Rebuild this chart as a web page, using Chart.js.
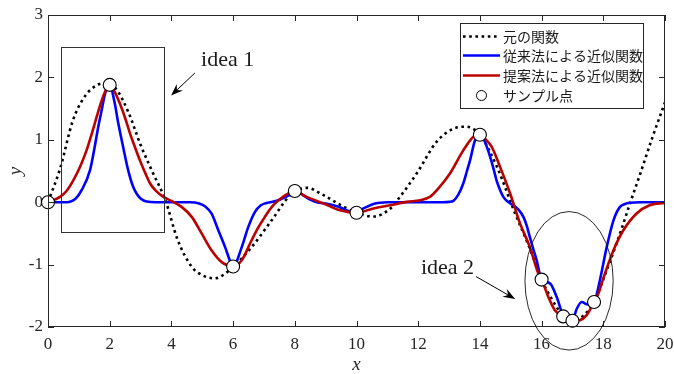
<!DOCTYPE html>
<html>
<head>
<meta charset="utf-8">
<script src="https://cdn.jsdelivr.net/npm/chart.js@4.4.1/dist/chart.umd.min.js"></script>
<style>
  html, body { margin: 0; padding: 0; background: #fff; }
</style>
</head>
<body>
<canvas id="chart" width="674" height="374"></canvas>
<script>
/* ========================================
   DADOS
   ======================================== */

// 元の関数 (linha pontilhada)
const origX = [0, 0.4, 0.8, 1.2, 1.6, 1.9, 2.2, 2.6, 3.0, 3.4, 3.8, 4.2, 4.65, 5.0, 5.4, 5.95, 6.6, 7.25, 7.85, 8.4, 8.9, 9.5, 10.0, 10.55, 11.1, 11.4, 11.95, 12.6, 13.15, 13.55, 14.0, 14.55, 15.1, 15.6, 16.0, 16.35, 16.7, 17.0, 17.35, 17.7, 17.95, 18.5, 18.9, 19.2, 19.6, 20.0];
const origY = [0, 0.55, 1.3, 1.7, 1.88, 1.91, 1.82, 1.45, 0.92, 0.47, 0.04, -0.6, -1.03, -1.17, -1.22, -1.06, -0.72, -0.29, 0.11, 0.23, 0.12, -0.05, -0.17, -0.23, -0.1, 0.08, 0.46, 0.97, 1.18, 1.21, 1.08, 0.57, -0.13, -0.72, -1.24, -1.57, -1.82, -1.9, -1.82, -1.6, -1.3, -0.56, 0.03, 0.46, 1.05, 1.6];

// 従来法による近似関数 (azul)
const convX = [0, 0.6, 0.9, 1.1, 1.36, 1.5, 1.63, 1.75, 1.85, 2.0, 2.15, 2.28, 2.45, 2.6, 2.75, 2.87, 3.0, 3.2, 3.5, 4.6, 4.9, 5.1, 5.3, 5.52, 5.74, 5.95, 6.0, 6.28, 6.49, 6.71, 6.9, 7.03, 7.47, 7.9, 8.0, 8.28, 8.5, 8.71, 9.0, 9.25, 9.5, 9.68, 10.0, 10.15, 10.33, 10.55, 10.76, 11.0, 12.8, 13.0, 13.14, 13.3, 13.46, 13.58, 13.68, 13.84, 14.0, 14.15, 14.33, 14.45, 14.54, 14.65, 14.76, 14.9, 15.08, 15.25, 15.41, 15.52, 15.62, 15.73, 15.84, 16.0, 16.27, 16.49, 16.65, 16.7, 17.0, 17.13, 17.3, 17.5, 17.7, 17.89, 18.11, 18.33, 18.54, 18.7, 18.87, 19.2, 20.0];
const convY = [0, 0, 0.06, 0.2, 0.51, 0.85, 1.21, 1.5, 1.74, 1.88, 1.62, 1.26, 0.85, 0.51, 0.26, 0.14, 0.06, 0.01, 0, 0, -0.02, -0.07, -0.18, -0.45, -0.72, -1.0, -1.03, -0.72, -0.4, -0.155, -0.05, -0.02, 0.03, 0.14, 0.18, 0.11, 0.04, 0.0, -0.02, -0.05, -0.09, -0.13, -0.17, -0.12, -0.075, -0.03, -0.01, 0, 0, 0.005, 0.02, 0.12, 0.3, 0.5, 0.67, 0.99, 1.08, 0.98, 0.73, 0.52, 0.35, 0.2, 0.085, 0.01, -0.05, -0.12, -0.235, -0.38, -0.56, -0.75, -0.93, -1.24, -1.3, -1.52, -1.76, -1.83, -1.9, -1.72, -1.6, -1.64, -1.6, -1.25, -0.72, -0.29, -0.075, -0.03, -0.01, 0, 0];

// 提案法による近似関数 (vermelho)
const propX = [0, 0.39, 0.6, 0.82, 1.05, 1.25, 1.42, 1.58, 1.72, 1.85, 2.0, 2.15, 2.33, 2.5, 2.66, 2.82, 2.98, 3.15, 3.31, 3.5, 3.74, 4.0, 4.33, 4.66, 4.98, 5.3, 5.63, 6.0, 6.28, 6.6, 6.8, 7.03, 7.25, 7.47, 7.79, 8.0, 8.38, 8.93, 9.47, 10.0, 10.55, 11.09, 11.63, 12.06, 12.38, 12.6, 13.03, 13.46, 13.79, 14.0, 14.2, 14.38, 14.65, 14.98, 15.3, 15.62, 15.89, 16.0, 16.22, 16.43, 16.7, 17.0, 17.24, 17.46, 17.7, 17.85, 18.0, 18.33, 18.65, 19.08, 19.5, 20.0];
const propY = [0, 0.085, 0.18, 0.35, 0.58, 0.83, 1.1, 1.37, 1.6, 1.77, 1.88, 1.78, 1.58, 1.35, 1.1, 0.88, 0.67, 0.47, 0.3, 0.18, 0.085, 0.02, -0.075, -0.235, -0.5, -0.77, -0.96, -1.03, -0.93, -0.61, -0.42, -0.235, -0.08, 0.03, 0.14, 0.18, 0.085, -0.02, -0.13, -0.17, -0.1, -0.05, 0.005, 0.03, 0.085, 0.19, 0.46, 0.83, 1.05, 1.08, 1.0, 0.89, 0.57, 0.14, -0.34, -0.72, -1.14, -1.24, -1.52, -1.73, -1.83, -1.9, -1.89, -1.81, -1.6, -1.45, -1.22, -0.77, -0.45, -0.18, -0.05, -0.01];

// サンプル点
const sampleX = [0, 2, 6, 8, 10, 14, 16, 16.7, 17, 17.7];
const sampleY = [0, 1.88, -1.03, 0.18, -0.17, 1.08, -1.24, -1.83, -1.9, -1.6];

// Eixos
const xTicks = [0, 2, 4, 6, 8, 10, 12, 14, 16, 18, 20];
const yTicks = [-2, -1, 0, 1, 2, 3];

const legendLabels = ['元の関数', '従来法による近似関数', '提案法による近似関数', 'サンプル点'];

function toPoints(xs, ys) {
  return xs.map((v, i) => ({ x: v, y: ys[i] }));
}

/* ========================================
   PLUGINS - moldura, anotações e legenda
   ======================================== */

function drawArrow(ctx, x1, y1, x2, y2) {
  const ang = Math.atan2(y2 - y1, x2 - x1);
  const len = 12, half = 4.5;
  ctx.beginPath();
  ctx.moveTo(x1, y1);
  ctx.lineTo(x2 - Math.cos(ang) * 8, y2 - Math.sin(ang) * 8);
  ctx.stroke();
  ctx.beginPath();
  ctx.moveTo(x2, y2);
  ctx.lineTo(x2 - len * Math.cos(ang) + half * Math.sin(ang), y2 - len * Math.sin(ang) - half * Math.cos(ang));
  ctx.lineTo(x2 - 8 * Math.cos(ang), y2 - 8 * Math.sin(ang));
  ctx.lineTo(x2 - len * Math.cos(ang) - half * Math.sin(ang), y2 - len * Math.sin(ang) + half * Math.cos(ang));
  ctx.closePath();
  ctx.fill();
}

const decorPlugin = {
  id: 'decor',
  afterDatasetsDraw(chart) {
    const { ctx, chartArea: a, scales: { x, y } } = chart;
    ctx.save();

    // Moldura com marcas internas
    ctx.strokeStyle = '#262626';
    ctx.lineWidth = 1;
    ctx.strokeRect(a.left + 0.5, a.top + 0.5, a.right - a.left - 1, a.bottom - a.top - 1);
    ctx.beginPath();
    xTicks.forEach(v => {
      const px = Math.round(x.getPixelForValue(v)) + 0.5;
      ctx.moveTo(px, a.bottom); ctx.lineTo(px, a.bottom - 6);
      ctx.moveTo(px, a.top); ctx.lineTo(px, a.top + 6);
    });
    yTicks.forEach(v => {
      const py = Math.round(y.getPixelForValue(v)) + 0.5;
      ctx.moveTo(a.left, py); ctx.lineTo(a.left + 6, py);
      ctx.moveTo(a.right, py); ctx.lineTo(a.right - 6, py);
    });
    ctx.stroke();

    // idea 1 : retângulo + seta + texto
    ctx.strokeStyle = '#333';
    ctx.lineWidth = 1;
    const rx1 = x.getPixelForValue(0.42), rx2 = x.getPixelForValue(3.76);
    const ry1 = y.getPixelForValue(2.49), ry2 = y.getPixelForValue(-0.48);
    ctx.strokeRect(Math.round(rx1) + 0.5, Math.round(ry1) + 0.5, Math.round(rx2 - rx1), Math.round(ry2 - ry1));

    ctx.strokeStyle = '#000';
    ctx.fillStyle = '#000';
    drawArrow(ctx, x.getPixelForValue(4.76), y.getPixelForValue(2.07), x.getPixelForValue(3.99), y.getPixelForValue(1.71));
    drawArrow(ctx, x.getPixelForValue(13.87), y.getPixelForValue(-1.19), x.getPixelForValue(15.14), y.getPixelForValue(-1.55));

    ctx.font = '22px "Liberation Serif", "Times New Roman", serif';
    ctx.fillStyle = '#1a1a1a';
    ctx.textBaseline = 'middle';
    ctx.textAlign = 'left';
    ctx.fillText('idea 1', x.getPixelForValue(4.96), y.getPixelForValue(2.27));
    ctx.fillText('idea 2', x.getPixelForValue(12.09), y.getPixelForValue(-1.06));

    // idea 2 : elipse
    const ex = x.getPixelForValue(16.89), ey = y.getPixelForValue(-1.26);
    const erx = x.getPixelForValue(16.89 + 1.43) - ex;
    const ery = y.getPixelForValue(-1.26 - 1.11) - ey;
    ctx.beginPath();
    ctx.ellipse(ex, ey, erx, ery, 0, 0, Math.PI * 2);
    ctx.strokeStyle = '#111';
    ctx.lineWidth = 0.9;
    ctx.stroke();

    ctx.restore();
  },
  afterDraw(chart) {
    const { ctx, chartArea: a } = chart;
    ctx.save();
    const bx = a.right - 205, by = a.top + 8, bw = 183, bh = 85;
    ctx.fillStyle = '#fff';
    ctx.fillRect(bx, by, bw, bh);
    ctx.strokeStyle = '#262626';
    ctx.lineWidth = 1;
    ctx.strokeRect(bx + 0.5, by + 0.5, bw, bh);

    const rows = [13, 32, 52, 72];
    const lx1 = bx + 3, lx2 = bx + 40;
    chart.data.datasets.forEach((ds, i) => {
      const ry = by + rows[i] + 0.5;
      if (ds.showLine) {
        ctx.beginPath();
        ctx.strokeStyle = ds.borderColor;
        ctx.lineWidth = ds.borderWidth;
        ctx.setLineDash(ds.borderDash || []);
        ctx.moveTo(lx1, ry); ctx.lineTo(lx2, ry);
        ctx.stroke();
        ctx.setLineDash([]);
      } else {
        ctx.beginPath();
        ctx.arc((lx1 + lx2) / 2, ry, 5, 0, Math.PI * 2);
        ctx.fillStyle = '#fff';
        ctx.fill();
        ctx.strokeStyle = '#000';
        ctx.lineWidth = 1;
        ctx.stroke();
      }
      ctx.fillStyle = '#1a1a1a';
      ctx.font = '14px "Noto Sans CJK JP", sans-serif';
      ctx.textBaseline = 'middle';
      ctx.fillText(legendLabels[i], lx2 + 3, ry);
    });
    ctx.restore();
  }
};

/* ========================================
   GRÁFICO
   ======================================== */

const serif = '"Liberation Serif", "Times New Roman", serif';

new Chart(document.getElementById('chart'), {
  type: 'scatter',
  data: {
    datasets: [
      {
        label: legendLabels[0],
        data: toPoints(origX, origY),
        showLine: true,
        borderColor: '#000',
        borderWidth: 2.6,
        borderDash: [2.6, 3.6],
        pointRadius: 0,
        cubicInterpolationMode: 'monotone',
        order: 4
      },
      {
        label: legendLabels[1],
        data: toPoints(convX, convY),
        showLine: true,
        borderColor: '#0000FF',
        borderWidth: 2.6,
        pointRadius: 0,
        cubicInterpolationMode: 'monotone',
        order: 3
      },
      {
        label: legendLabels[2],
        data: toPoints(propX, propY),
        showLine: true,
        borderColor: '#BB0000',
        borderWidth: 2.6,
        pointRadius: 0,
        cubicInterpolationMode: 'monotone',
        order: 2
      },
      {
        label: legendLabels[3],
        data: toPoints(sampleX, sampleY),
        showLine: false,
        pointRadius: 6.5,
        pointBackgroundColor: '#fff',
        pointBorderColor: '#000',
        pointBorderWidth: 1.1,
        clip: false,
        order: 1
      }
    ]
  },
  options: {
    responsive: false,
    animation: false,
    devicePixelRatio: 1,
    layout: { padding: { top: 15, right: 9, left: 0, bottom: 0 } },
    plugins: {
      legend: { display: false },
      tooltip: { enabled: false }
    },
    scales: {
      x: {
        type: 'linear',
        min: 0,
        max: 20,
        afterFit: s => { s.height = 47; s.paddingLeft = 0; s.paddingRight = 0; },
        afterBuildTicks: s => { s.ticks = xTicks.map(v => ({ value: v })); },
        grid: { display: false, drawTicks: false },
        border: { display: false },
        ticks: {
          autoSkip: false,
          maxRotation: 0,
          padding: 7,
          color: '#262626',
          font: { family: serif, size: 17 }
        },
        title: {
          display: true,
          text: 'x',
          color: '#262626',
          padding: 0,
          font: { family: serif, size: 19, style: 'italic', lineHeight: 1 }
        }
      },
      y: {
        type: 'linear',
        min: -2,
        max: 3,
        afterFit: s => { s.width = 48; s.paddingTop = 0; s.paddingBottom = 0; },
        afterBuildTicks: s => { s.ticks = yTicks.map(v => ({ value: v })); },
        grid: { display: false, drawTicks: false },
        border: { display: false },
        ticks: {
          padding: 5,
          color: '#262626',
          font: { family: serif, size: 17 }
        },
        title: {
          display: true,
          text: 'y',
          color: '#262626',
          padding: { top: 6, bottom: 0 },
          font: { family: serif, size: 19, style: 'italic', lineHeight: 1 }
        }
      }
    }
  },
  plugins: [decorPlugin]
});
</script>
</body>
</html>
